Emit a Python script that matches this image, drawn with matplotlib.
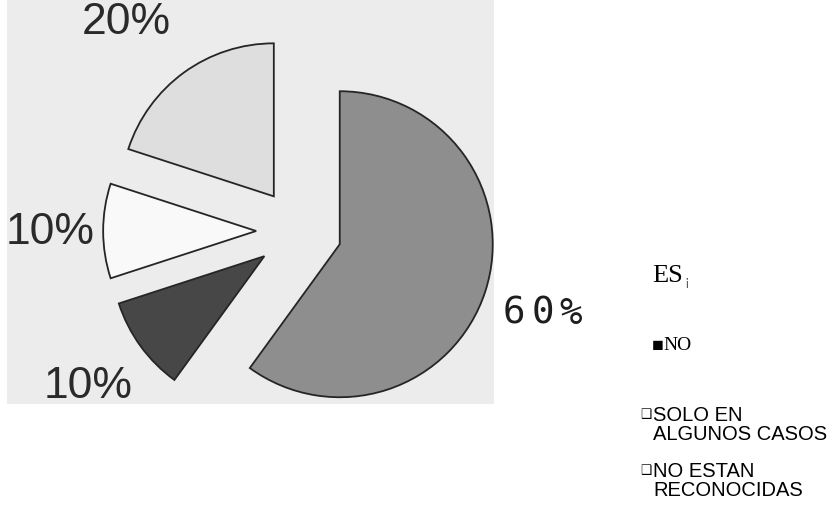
"""
Scanned-style exploded pie with a text legend on the right.
"""
import matplotlib
matplotlib.use("Agg")
import matplotlib.pyplot as plt
from matplotlib.patches import Rectangle

W, H = 840, 513

# data
values = [60, 10, 10, 20]
slice_colors = ["#8e8e8e", "#474747", "#f9f9f9", "#dedede"]
categories = ["ES¡", "NO", "SOLO EN\nALGUNOS CASOS", "NO ESTAN\nRECONOCIDAS"]
markers = ["", "■", "❑", "❑"]

fig = plt.figure(figsize=(W / 100, H / 100), dpi=100)
ax = fig.add_axes([0, 0, 1, 1])

# grey scanned panel behind the pie
panel = Rectangle((7, H - 404), 487, 404, facecolor="#ececec", edgecolor="none", zorder=0)
ax.add_patch(panel)

radius = 153
explode = [0.28 * radius] * len(values)
wedges, _ = ax.pie(values, explode=explode, colors=slice_colors, startangle=90,
                   counterclock=False, center=(299, H - 231), radius=radius,
                   wedgeprops=dict(edgecolor="#252525", linewidth=1.3))

# percentage labels (positions picked by eye)
lab_pos = [(514, 314), (88, 386), (50, 233), (126, 22)]
for v, (px, py) in zip(values, lab_pos):
    if v == 60:
        # the big slice label is set wide and thin in the scan
        for k, ch in enumerate(f"{v}%"):
            ax.text(px + 28.5 * k, H - py, ch, ha="center", va="center", fontsize=27,
                    family="DejaVu Sans Mono", color="#1e1e1e")
    else:
        t = ax.text(px, H - py, f"{v}%", ha="center", va="center", fontsize=32,
                    family="Liberation Sans", color="#2a2a2a")
        t.set_clip_path(panel)

# legend-like text column
ax.text(652, H - 282, categories[0][:-1], ha="left", va="baseline", fontsize=19,
        family="Liberation Serif", color="black")
ax.text(684, H - 285, categories[0][-1], ha="left", va="baseline", fontsize=10,
        family="Liberation Serif", color="#444444")
ax.text(652, H - 351, markers[1], ha="left", va="baseline", fontsize=14,
        family=["Liberation Serif", "DejaVu Sans"], color="black")
ax.text(663, H - 350, categories[1], ha="left", va="baseline", fontsize=14,
        family="Liberation Serif", color="black")
for lab, mk, py in zip(categories[2:], markers[2:], [408, 464]):
    ax.text(640, H - py, mk, ha="left", va="top", fontsize=9,
            family="DejaVu Sans", color="black")
    ax.text(653, H - py + 2, lab, ha="left", va="top", fontsize=14.5,
            family="Liberation Sans", color="black", linespacing=0.98)

ax.set_xlim(0, W)
ax.set_ylim(0, H)
ax.set_aspect("auto")
ax.axis("off")

fig.savefig("out.png", dpi=100, facecolor="white")
